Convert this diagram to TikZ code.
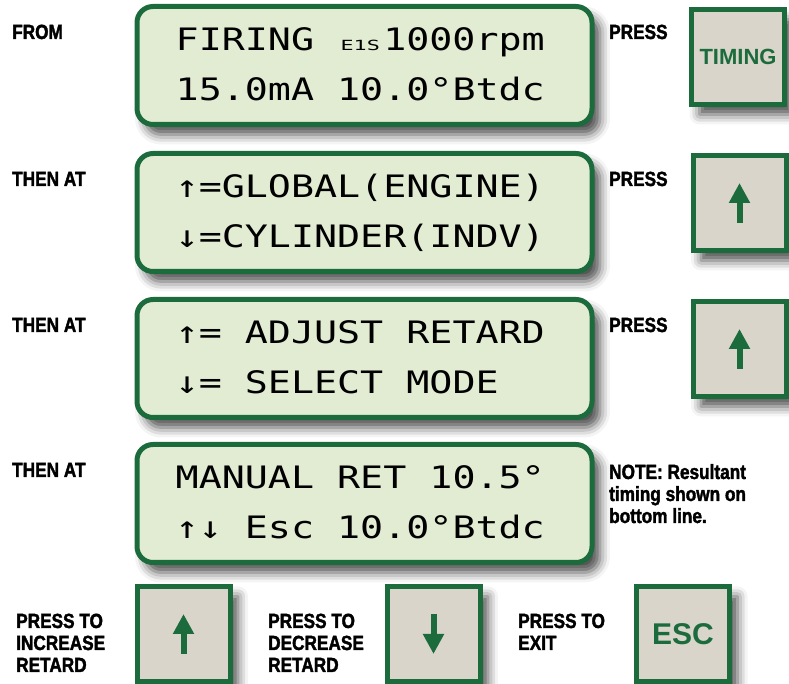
\documentclass[tikz,border=0pt]{standalone}
\usepackage{fontspec}
\usepackage{tikz}
\usetikzlibrary{arrows.meta,positioning,calc,shadows.blur}
\newfontfamily\lblfont[FakeStretch=0.84,FakeBold=1.8]{Liberation Sans}
\newfontfamily\keyfont{Liberation Sans}
\newfontfamily\lcdfont[FakeStretch=1.24]{DejaVu Sans Mono}
\newfontfamily\lcdsmall[FakeStretch=1.55]{DejaVu Sans Mono}
\definecolor{lcdgreen}{HTML}{1C6B3C}
\definecolor{lcdfill}{HTML}{E2ECD2}
\definecolor{keyfill}{HTML}{D9D5CB}

\begin{document}
\begin{tikzpicture}[
    x=1pt, y=1pt,
    shade/.style={blur shadow={shadow xshift=8pt, shadow yshift=-10pt, shadow blur radius=10pt, shadow opacity=70}},
    lcd/.style={rectangle, draw=lcdgreen, line width=5pt, fill=lcdfill, rounded corners=16pt, minimum width=455pt, minimum height=118pt, shade},
    lcdline/.style={anchor=base west, inner sep=0pt, font=\lcdfont\fontsize{30.9}{30.9}\selectfont},
    keybox/.style={rectangle, draw=lcdgreen, line width=5pt, fill=keyfill, minimum width=93pt, minimum height=95pt, inner sep=0pt, text=lcdgreen, shade},
    lbl/.style={anchor=base west, inner sep=0pt, align=left, font=\lblfont\bfseries\fontsize{20.5}{22}\selectfont},
    keyarrow/.style={line width=6pt, draw=lcdgreen, -{Triangle[length=20pt, width=20pt]}}
]
    \useasboundingbox (0,0) rectangle (789,684);

    % LCD screens
    \node[lcd] (lcdA) at (364.5,618.5) {};
    \node[lcd] (lcdB) at (364.5,471.5) {};
    \node[lcd] (lcdC) at (364.5,325.5) {};
    \node[lcd] (lcdD) at (364.5,180.5) {};

    \node[lcdline] at ($(lcdA.west)+(41,15)$) {FIRING \makebox[46.1pt]{\lcdsmall\fontsize{14}{14}\selectfont E1S}1000rpm};
    \node[lcdline] at ($(lcdA.west)+(41,-35)$) {15.0mA 10.0°Btdc};
    \node[lcdline] at ($(lcdB.west)+(41,15)$) {↑=GLOBAL(ENGINE)};
    \node[lcdline] at ($(lcdB.west)+(41,-35)$) {↓=CYLINDER(INDV)};
    \node[lcdline] at ($(lcdC.west)+(41,15)$) {↑= ADJUST RETARD};
    \node[lcdline] at ($(lcdC.west)+(41,-35)$) {↓= SELECT MODE};
    \node[lcdline] at ($(lcdD.west)+(41,15)$) {MANUAL RET 10.5°};
    \node[lcdline] at ($(lcdD.west)+(41,-35)$) {↑↓ Esc 10.0°Btdc};

    % Keys
    \node[keybox, font=\keyfont\bfseries\fontsize{22}{22}\selectfont] (timing) at (738,627) {TIMING};
    \node[keybox] (upB) at (739.5,481) {};
    \node[keybox] (upC) at (739.5,335) {};
    \node[keybox] (incr) at (183.5,50) {};
    \node[keybox] (decr) at (433.5,50) {};
    \node[keybox, font=\keyfont\bfseries\fontsize{30}{30}\selectfont] (esc) at (683,50) {ESC};

    \draw[keyarrow] ([yshift=-20pt]upB.center) -- ([yshift=20pt]upB.center);
    \draw[keyarrow] ([yshift=-20pt]upC.center) -- ([yshift=20pt]upC.center);
    \draw[keyarrow] ([yshift=-20pt]incr.center) -- ([yshift=20pt]incr.center);
    \draw[keyarrow] ([yshift=20pt]decr.center) -- ([yshift=-20pt]decr.center);

    % Labels (base = last line)
    \node[lbl] (from) at (12,645) {FROM};
    \node[lbl] (thenB) at (12,498) {THEN AT};
    \node[lbl] (thenC) at (12,352) {THEN AT};
    \node[lbl] (thenD) at (12,207) {THEN AT};
    \node[lbl] (pressA) at (609,645) {PRESS};
    \node[lbl] (pressB) at (609,498) {PRESS};
    \node[lbl] (pressC) at (609,352) {PRESS};
    \node[lbl] (note) at (609,161) {NOTE: Resultant\\timing shown on\\bottom line.};
    \node[lbl] (incrtxt) at (16,12) {PRESS TO\\INCREASE\\RETARD};
    \node[lbl] (decrtxt) at (268,12) {PRESS TO\\DECREASE\\RETARD};
    \node[lbl] (esctxt) at (518,34) {PRESS TO\\EXIT};

\end{tikzpicture}
\end{document}
